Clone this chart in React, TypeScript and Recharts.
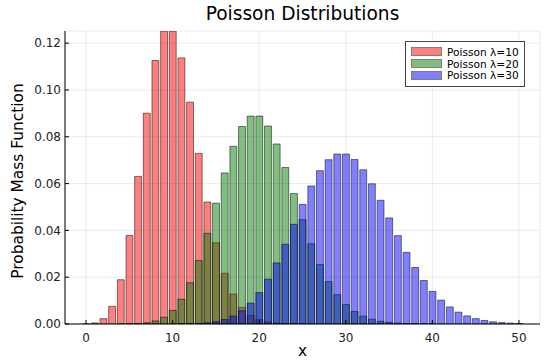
import { BarChart, Bar, XAxis, YAxis, CartesianGrid } from "recharts";

// x = 0..50
const X_VALUES = [
  0, 1, 2, 3, 4, 5, 6, 7, 8, 9, 10, 11, 12, 13, 14, 15, 16, 17, 18, 19, 20, 21, 22, 23, 24, 25,
  26, 27, 28, 29, 30, 31, 32, 33, 34, 35, 36, 37, 38, 39, 40, 41, 42, 43, 44, 45, 46, 47, 48, 49, 50,
];

const PMF_10 = [
  0.00005, 0.00045, 0.00227, 0.00757, 0.01892, 0.03783, 0.06306, 0.09008, 0.1126, 0.1251, 0.1251,
  0.1137, 0.0948, 0.0729, 0.0521, 0.0347, 0.0217, 0.0128, 0.0071, 0.0037, 0.0019, 0.0009, 0.0004,
  0.0002, 0.0001, 0.00003, 0, 0, 0, 0, 0, 0, 0, 0, 0, 0, 0, 0, 0, 0, 0, 0, 0, 0, 0, 0, 0, 0, 0, 0, 0,
];

const PMF_20 = [
  0, 0, 0, 0, 0.00001, 0.00005, 0.00018, 0.00052, 0.00131, 0.00291, 0.00582, 0.01058, 0.01763,
  0.02712, 0.03874, 0.05165, 0.06456, 0.07595, 0.08439, 0.08884, 0.08884, 0.08461, 0.07692, 0.06688,
  0.05573, 0.04459, 0.0343, 0.02541, 0.01815, 0.01252, 0.00834, 0.00538, 0.00336, 0.00204, 0.0012,
  0.00069, 0.00038, 0.00021, 0.00011, 0.00006, 0.00003, 0, 0, 0, 0, 0, 0, 0, 0, 0, 0,
];

const PMF_30 = [
  0, 0, 0, 0, 0, 0, 0, 0, 0, 0, 0, 0.00004, 0.0001, 0.00024, 0.00051, 0.00103, 0.00193, 0.0034,
  0.00566, 0.00894, 0.01341, 0.01916, 0.02612, 0.03408, 0.04259, 0.05111, 0.05898, 0.06553, 0.07021,
  0.07263, 0.07263, 0.07029, 0.0659, 0.05991, 0.05286, 0.04531, 0.03776, 0.03061, 0.02417, 0.01859,
  0.01394, 0.0102, 0.00729, 0.00508, 0.00347, 0.00231, 0.00151, 0.00096, 0.0006, 0.00037, 0.00022,
];

const SERIES_LABELS = ["Poisson λ=10", "Poisson λ=20", "Poisson λ=30"];
const X_TICKS = [0, 10, 20, 30, 40, 50];
const Y_TICKS = [0, 0.02, 0.04, 0.06, 0.08, 0.1, 0.12];

const SERIES = [
  { key: "p10", axis: "a", fill: "#ff0000", label: SERIES_LABELS[0] },
  { key: "p20", axis: "b", fill: "#008000", label: SERIES_LABELS[1] },
  { key: "p30", axis: "c", fill: "#0000ff", label: SERIES_LABELS[2] },
];

const data = X_VALUES.map((x, i) => ({ x, p10: PMF_10[i], p20: PMF_20[i], p30: PMF_30[i] }));

const FONT = "'DejaVu Sans', sans-serif";
const X_DOMAIN: [number, number] = [-2.43, 52.43];
const tickStyle = { fontSize: 12, fill: "#222", fontFamily: FONT };

export default function App() {
  return (
    <div style={{ position: "absolute", left: 0, top: 0, width: 550, height: 362, background: "#fff", fontFamily: FONT }}>
      <BarChart
        width={550}
        height={362}
        data={data}
        margin={{ top: 31, right: 10, left: 8, bottom: 0 }}
      >
        <CartesianGrid xAxisId="a" stroke="#000" strokeOpacity={0.08} />
        <XAxis
          xAxisId="a"
          type="number"
          dataKey="x"
          domain={X_DOMAIN}
          allowDataOverflow
          ticks={X_TICKS}
          height={38}
          tickSize={-4}
          tickMargin={13}
          tick={tickStyle}
          stroke="#000"
          tickLine={{ stroke: "#000" }}
        />
        <XAxis xAxisId="b" type="number" dataKey="x" domain={X_DOMAIN} allowDataOverflow hide />
        <XAxis xAxisId="c" type="number" dataKey="x" domain={X_DOMAIN} allowDataOverflow hide />
        <YAxis
          type="number"
          domain={[0, 0.1252]}
          allowDataOverflow
          ticks={Y_TICKS}
          width={57}
          tickSize={-4}
          tickMargin={8}
          tick={tickStyle}
          stroke="#000"
          tickLine={{ stroke: "#000" }}
          tickFormatter={(v: number) => v.toFixed(2)}
        />
        {SERIES.map((s) => (
          <Bar
            key={s.key}
            xAxisId={s.axis}
            dataKey={s.key}
            barSize={6.9}
            fill={s.fill}
            fillOpacity={0.5}
            stroke="#000"
            strokeOpacity={0.5}
            strokeWidth={1}
            isAnimationActive={false}
          />
        ))}
      </BarChart>

      <svg width={550} height={362} style={{ position: "absolute", left: 0, top: 0, pointerEvents: "none" }}>
        <text x={302.5} y={20} textAnchor="middle" fontSize={18.6} fontFamily={FONT} fill="#000">
          Poisson Distributions
        </text>
        <text x={302.5} y={356} textAnchor="middle" fontSize={15.4} fontFamily={FONT} fill="#000">
          x
        </text>
        <text
          transform="translate(23,181) rotate(-90)"
          textAnchor="middle"
          fontSize={15.4}
          fontFamily={FONT}
          fill="#000"
        >
          Probability Mass Function
        </text>
      </svg>

      <div
        style={{
          position: "absolute",
          left: 405,
          top: 41,
          width: 120,
          height: 46,
          boxSizing: "border-box",
          border: "1px solid #444",
          background: "#fff",
          padding: "4px 0 0 5px",
        }}
      >
        {SERIES.map((s) => (
          <div key={s.key} style={{ display: "flex", alignItems: "center", height: 11.7 }}>
            <div
              style={{
                width: 31,
                height: 9,
                boxSizing: "border-box",
                background: s.fill,
                opacity: 0.5,
                border: "1px solid #000",
              }}
            />
            <span style={{ marginLeft: 5, fontSize: 10.6, color: "#000", whiteSpace: "nowrap" }}>{s.label}</span>
          </div>
        ))}
      </div>
    </div>
  );
}
